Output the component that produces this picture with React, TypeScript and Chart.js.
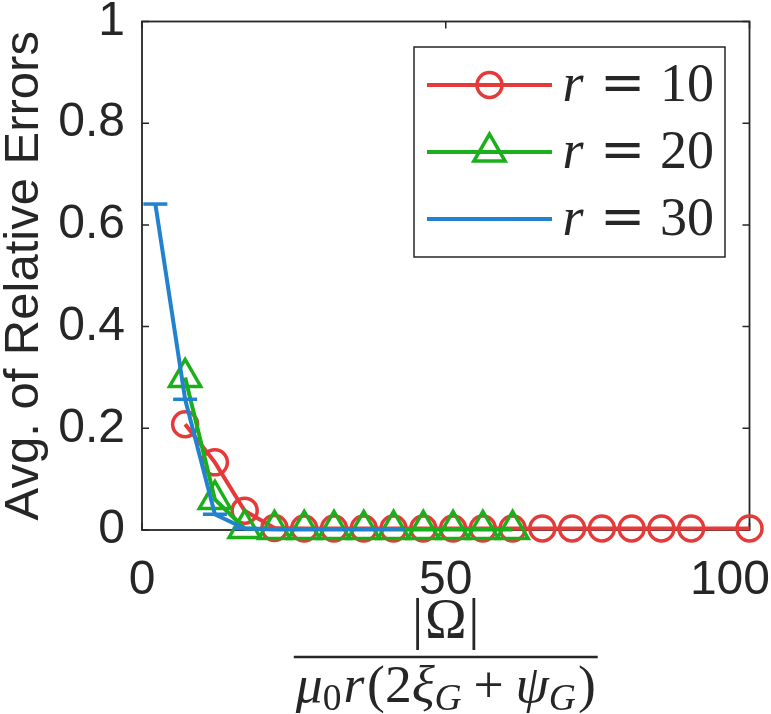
import React, { useEffect, useRef } from 'react';
import { Chart, registerables } from 'chart.js';

Chart.register(...registerables);

// ---------- data ----------
const seriesLabels = ['r = 10', 'r = 20', 'r = 30'];
const seriesColors = ['#E53A3A', '#1CAF1C', '#2282D0'];
const seriesMarkers = ['circle', 'triangle', 'line'];

const r10X = [7.1, 12.0, 16.9, 21.8, 26.7, 31.6, 36.5, 41.4, 46.3, 51.2, 56.1, 61.0, 65.9, 70.8, 75.7, 80.6, 85.5, 90.4, 100.0];
const r10Y = [0.208, 0.133, 0.038, 0.004, 0.003, 0.003, 0.003, 0.003, 0.003, 0.003, 0.003, 0.003, 0.003, 0.003, 0.003, 0.003, 0.003, 0.003, 0.003];

const r20X = [7.1, 12.0, 16.9, 21.8, 26.7, 31.6, 36.5, 41.4, 46.3, 51.2, 56.1, 61.0];
const r20Y = [0.300, 0.060, 0.003, 0.001, 0.001, 0.001, 0.001, 0.001, 0.001, 0.001, 0.001, 0.001];

const r30X = [2.2, 7.1, 12.0, 16.9, 21.8, 26.7, 31.6, 36.5, 41.4];
const r30Y = [0.641, 0.257, 0.031, 0.003, 0.002, 0.002, 0.002, 0.002, 0.002];

const xTickValues = [0, 50, 100];
const yTickValues = [0, 0.2, 0.4, 0.6, 0.8, 1];
const yTitle = 'Avg. of Relative Errors';

// ---------- styling ----------
const AXIS_COLOR = '#262626';
const SANS = '"Liberation Sans", Arial, Helvetica, sans-serif';
const SERIF = '"Liberation Serif", "Times New Roman", serif';
const TICK_SIZE = 48;
const MATH_SIZE = 54;

const toPoints = (xs: number[], ys: number[]) => xs.map((x, i) => ({ x, y: ys[i] }));
const markerRadius = [12.5, 18, 12];

function drawMarker(ctx: CanvasRenderingContext2D, style: string, x: number, y: number, r: number) {
  ctx.beginPath();
  if (style === 'circle') {
    ctx.arc(x, y, r, 0, Math.PI * 2);
  } else if (style === 'triangle') {
    for (let k = 0; k < 3; k++) {
      const a = (k * 2 * Math.PI) / 3;
      const px = x + Math.sin(a) * r;
      const py = y - Math.cos(a) * r;
      if (k === 0) ctx.moveTo(px, py);
      else ctx.lineTo(px, py);
    }
    ctx.closePath();
  } else {
    ctx.moveTo(x - r, y);
    ctx.lineTo(x + r, y);
  }
  ctx.stroke();
}

type Piece = { t: string; italic?: boolean; sub?: boolean; gap?: number };
const numerPieces: Piece[] = [{ t: '|' }, { t: 'Ω', gap: 0.03 }, { t: '|', gap: 0.03 }];
const denomPieces: Piece[] = [
  { t: 'μ', italic: true },
  { t: '0', sub: true },
  { t: 'r', italic: true, gap: 0.04 },
  { t: '(', gap: 0.05 },
  { t: '2' },
  { t: 'ξ', italic: true },
  { t: 'G', italic: true, sub: true },
  { t: '+', gap: 0.22 },
  { t: 'ψ', italic: true, gap: 0.22 },
  { t: 'G', italic: true, sub: true },
  { t: ')', gap: 0.04 },
];

function serifFont(size: number, italic?: boolean) {
  return `${italic ? 'italic ' : ''}${size}px ${SERIF}`;
}

function measurePieces(ctx: CanvasRenderingContext2D, pieces: Piece[], size: number) {
  let w = 0;
  pieces.forEach((p) => {
    const s = p.sub ? size * 0.7 : size;
    ctx.font = serifFont(s, p.italic);
    w += (p.gap || 0) * size + ctx.measureText(p.t).width;
  });
  return w;
}

function drawPieces(ctx: CanvasRenderingContext2D, pieces: Piece[], size: number, cx: number, baseline: number) {
  const w = measurePieces(ctx, pieces, size);
  let x = cx - w / 2;
  ctx.textAlign = 'left';
  ctx.textBaseline = 'alphabetic';
  pieces.forEach((p) => {
    const s = p.sub ? size * 0.7 : size;
    ctx.font = serifFont(s, p.italic);
    x += (p.gap || 0) * size;
    ctx.fillText(p.t, x, baseline + (p.sub ? size * 0.15 : 0));
    x += ctx.measureText(p.t).width;
  });
}

const framePlugin = {
  id: 'frame',
  beforeDatasetsDraw(chart: any) {
    const { ctx, chartArea: a, scales } = chart;
    ctx.save();
    ctx.strokeStyle = AXIS_COLOR;
    ctx.lineWidth = 1.8;
    ctx.strokeRect(a.left, a.top, a.right - a.left, a.bottom - a.top);
    ctx.lineWidth = 1.5;
    const tl = 7;
    scales.y.ticks.forEach((t: any) => {
      const py = scales.y.getPixelForValue(t.value);
      ctx.beginPath();
      ctx.moveTo(a.left, py);
      ctx.lineTo(a.left + tl, py);
      ctx.moveTo(a.right, py);
      ctx.lineTo(a.right - tl, py);
      ctx.stroke();
    });
    scales.x.ticks.forEach((t: any) => {
      const px = scales.x.getPixelForValue(t.value);
      ctx.beginPath();
      ctx.moveTo(px, a.bottom);
      ctx.lineTo(px, a.bottom - tl);
      ctx.moveTo(px, a.top);
      ctx.lineTo(px, a.top + tl);
      ctx.stroke();
    });
    ctx.restore();
  },
};

const overlayPlugin = {
  id: 'overlay',
  afterDatasetsDraw(chart: any) {
    const { ctx, chartArea: a, scales, width } = chart;
    ctx.save();
    // x tick labels (kept inside the canvas)
    ctx.fillStyle = AXIS_COLOR;
    ctx.font = `${TICK_SIZE}px ${SANS}`;
    ctx.textAlign = 'center';
    ctx.textBaseline = 'alphabetic';
    scales.x.ticks.forEach((t: any) => {
      const label = String(t.value);
      const w = ctx.measureText(label).width;
      let px = scales.x.getPixelForValue(t.value);
      px = Math.min(px, width - 1 - w / 2);
      ctx.fillText(label, px, a.bottom + 64);
    });

    // x-axis label: fraction
    const cx = (a.left + a.right) / 2;
    ctx.fillStyle = AXIS_COLOR;
    drawPieces(ctx, numerPieces, MATH_SIZE + 2, cx, a.bottom + 108);
    const target = 300;
    const dw = measurePieces(ctx, denomPieces, MATH_SIZE);
    const dsize = Math.max(44, Math.min(60, (MATH_SIZE * target) / dw));
    const barW = measurePieces(ctx, denomPieces, dsize);
    ctx.strokeStyle = AXIS_COLOR;
    ctx.lineWidth = 2.5;
    ctx.beginPath();
    ctx.moveTo(cx - barW / 2 - 2, a.bottom + 127);
    ctx.lineTo(cx + barW / 2 + 2, a.bottom + 127);
    ctx.stroke();
    drawPieces(ctx, denomPieces, dsize, cx, a.bottom + 172);

    // legend
    const bx0 = 414, by0 = 47, bx1 = 725, by1 = 257;
    ctx.fillStyle = '#ffffff';
    ctx.fillRect(bx0, by0, bx1 - bx0, by1 - by0);
    ctx.strokeStyle = AXIS_COLOR;
    ctx.lineWidth = 1.5;
    ctx.strokeRect(bx0, by0, bx1 - bx0, by1 - by0);
    chart.data.datasets.forEach((ds: any, i: number) => {
      const y = 85 + i * 67;
      ctx.strokeStyle = ds.borderColor;
      ctx.lineWidth = 4;
      ctx.beginPath();
      ctx.moveTo(427, y);
      ctx.lineTo(552, y);
      ctx.stroke();
      ctx.lineWidth = 3.5;
      drawMarker(ctx, ds.pointStyle, 489.5, y, markerRadius[i]);
      const [lhs, rhs] = String(ds.label).split(' = ');
      ctx.fillStyle = AXIS_COLOR;
      ctx.textAlign = 'center';
      ctx.textBaseline = 'alphabetic';
      ctx.font = serifFont(MATH_SIZE, true);
      ctx.fillText(lhs, 573, y + 16);
      ctx.font = `${MATH_SIZE}px "DejaVu Serif", serif`;
      ctx.fillText('=', 622.5, y + 16);
      ctx.font = serifFont(MATH_SIZE, false);
      ctx.fillText(rhs, 687, y + 16);
    });
    ctx.restore();
  },
};

export default function App() {
  const canvasRef = useRef<HTMLCanvasElement | null>(null);

  useEffect(() => {
    const canvas = canvasRef.current;
    if (!canvas) return;
    const xsList = [r10X, r20X, r30X];
    const ysList = [r10Y, r20Y, r30Y];
    const chart = new Chart(canvas, {
      type: 'line',
      data: {
        datasets: seriesLabels.map((label, i) => ({
          label,
          data: toPoints(xsList[i], ysList[i]),
          borderColor: seriesColors[i],
          backgroundColor: 'rgba(0,0,0,0)',
          pointStyle: seriesMarkers[i] as any,
          pointRadius: markerRadius[i],
          pointHoverRadius: markerRadius[i],
          pointBorderWidth: 3.5,
          pointBackgroundColor: 'rgba(0,0,0,0)',
          pointBorderColor: seriesColors[i],
          borderWidth: 4,
          tension: 0,
          clip: false as any,
          order: 3 - i,
        })),
      },
      options: {
        animation: false,
        responsive: false,
        maintainAspectRatio: false,
        events: [],
        layout: { padding: { left: 0, top: 19, right: 19, bottom: 0 } },
        plugins: {
          legend: { display: false },
          tooltip: { enabled: false },
          title: { display: false },
        },
        scales: {
          x: {
            type: 'linear',
            min: 0,
            max: 100,
            afterBuildTicks: (scale: any) => {
              scale.ticks = xTickValues.map((v) => ({ value: v }));
            },
            afterFit: (scale: any) => {
              scale.height = 184;
              scale.paddingLeft = 0;
              scale.paddingRight = 0;
            },
            grid: { display: false, drawTicks: false },
            border: { display: false },
            ticks: { display: false },
          },
          y: {
            type: 'linear',
            min: 0,
            max: 1,
            afterBuildTicks: (scale: any) => {
              scale.ticks = yTickValues.map((v) => ({ value: v }));
            },
            afterFit: (scale: any) => {
              scale.width = 142;
              scale.paddingTop = 0;
              scale.paddingBottom = 0;
            },
            grid: { display: false, drawTicks: false },
            border: { display: false },
            ticks: {
              color: AXIS_COLOR,
              padding: 17,
              font: { family: SANS, size: TICK_SIZE },
              callback: (v: any) => String(Math.round(Number(v) * 10) / 10),
            },
            title: {
              display: true,
              text: yTitle,
              color: AXIS_COLOR,
              font: { family: SANS, size: 49, lineHeight: 1 },
              padding: { top: 0, bottom: 0 },
            },
          },
        },
      },
      plugins: [framePlugin, overlayPlugin],
    });
    return () => chart.destroy();
  }, []);

  return (
    <div style={{ position: 'absolute', left: 0, top: 0, width: 771, height: 714, background: '#ffffff' }}>
      <canvas ref={canvasRef} width={771} height={714} style={{ display: 'block' }} />
    </div>
  );
}
